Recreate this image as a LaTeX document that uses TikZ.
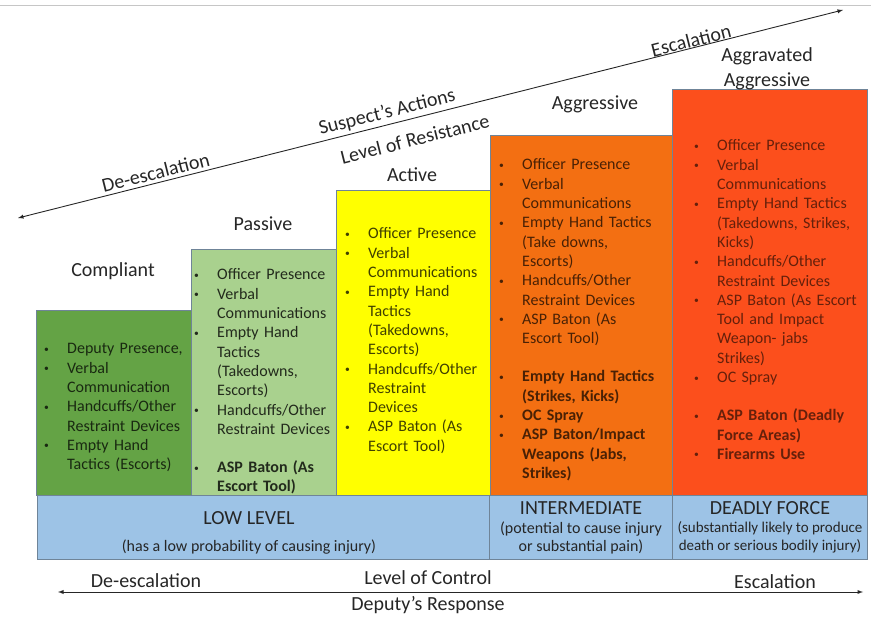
\documentclass[tikz,border=0pt]{standalone}
\usepackage{fontspec}
\usepackage{graphicx}
\setmainfont{Carlito}
\definecolor{complg}{HTML}{64A345}
\definecolor{passg}{HTML}{A9D18E}
\definecolor{activy}{HTML}{FFFF00}
\definecolor{aggro}{HTML}{F36F12}
\definecolor{aggrav}{HTML}{FC4F1C}
\definecolor{bandb}{HTML}{9DC3E6}
\definecolor{boxline}{HTML}{6F8498}
\definecolor{txtgrey}{HTML}{262626}
\newcommand\itm[1]{\par\noindent\hangindent=24pt\hangafter=1\makebox[24pt][l]{\hspace{1pt}\raisebox{1.5pt}{\scalebox{0.6}{\textbullet}}}\strut#1}
\newcommand\itmgap{\par\vspace{19pt}}
\tikzset{
  lvlbox/.style={draw=boxline, line width=0.7pt},
  head/.style={anchor=base, inner sep=0pt, font=\fontsize{20}{24}\selectfont, text=txtgrey},
  items/.style={anchor=north west, inner sep=0pt, text width=#1, align=left, font=\fontsize{16}{19.3}\selectfont},
  slab/.style={sloped, inner sep=0pt, font=\fontsize{20}{24}\selectfont, text=txtgrey},
  bandtitle/.style={anchor=base, inner sep=0pt, font=\fontsize{20}{24}\selectfont, text=txtgrey},
  bandsub/.style={anchor=base, inner sep=0pt, font=\fontsize{16}{19}\selectfont, text=txtgrey},
}
\begin{document}
\begin{tikzpicture}[x=1pt,y=-1pt]
	\useasboundingbox (0,0) rectangle (871,617);
	\draw[gray!45, line width=1pt] (0,6) -- (871,6);
	% suspect's actions
	\coordinate (dlo) at (18,218);
	\coordinate (dhi) at (843,10);
	\draw[<->, >=latex, line width=0.9pt, txtgrey] (dlo) -- (dhi)
		node[slab, pos=0.17, above=3pt] (deup) {De-escalation}
		node[slab, pos=0.451, above=3pt] (susp) {Suspect’s Actions}
		node[slab, pos=0.818, above=0pt] (escup) {Escalation}
		node[slab, pos=0.475, below=13pt] (resist) {Level of Resistance};
	% level boxes
	\draw[lvlbox, fill=complg] (36,310) rectangle (191,495);
	\draw[lvlbox, fill=passg] (191,249) rectangle (336,495);
	\draw[lvlbox, fill=activy] (336,190) rectangle (490,495);
	\draw[lvlbox, fill=aggro] (490,135) rectangle (672,495);
	\draw[lvlbox, fill=aggrav] (672,89) rectangle (867,495);
	\node[head] (compl) at (113,277) {Compliant};
	\node[head] (pass) at (263,231) {Passive};
	\node[head] (activ) at (412,182) {Active};
	\node[head] (aggr) at (595,110) {Aggressive};
	\node[head] (agvA) at (767,62) {Aggravated};
	\node[head] (agvB) at (767,87) {Aggressive};
	\node[items=145pt, text=black!75!complg] (complist) at (43,334.5) {%
		\itm{Deputy Presence,}
		\itm{Verbal\newline Communication}
		\itm{Handcuffs/Other\newline Restraint Devices}
		\itm{Empty Hand\newline Tactics (Escorts)}\par};
	\node[items=142pt, text=black!80!passg] (passlist) at (193,260.5) {%
		\itm{Officer Presence}
		\itm{Verbal\newline Communications}
		\itm{Empty Hand\newline Tactics\newline (Takedowns,\newline Escorts)}
		\itm{Handcuffs/Other\newline Restraint Devices}
		\itmgap
		\itm{\textbf{ASP Baton (As\newline Escort Tool)}}\par};
	\node[items=144pt, text=black!75!activy] (activlist) at (344,219.5) {%
		\itm{Officer Presence}
		\itm{Verbal\newline Communications}
		\itm{Empty Hand\newline Tactics\newline (Takedowns,\newline Escorts)}
		\itm{Handcuffs/Other\newline Restraint\newline Devices}
		\itm{ASP Baton (As\newline Escort Tool)}\par};
	\node[items=172pt, text=black!70!aggro] (aggrlist) at (498,150.5) {%
		\itm{Officer Presence}
		\itm{Verbal\newline Communications}
		\itm{Empty Hand Tactics\newline (Take downs,\newline Escorts)}
		\itm{Handcuffs/Other\newline Restraint Devices}
		\itm{ASP Baton (As\newline Escort Tool)}
		\itmgap
		\itm{\textbf{Empty Hand Tactics\newline (Strikes, Kicks)}}
		\itm{\textbf{OC Spray}}
		\itm{\textbf{ASP Baton/Impact\newline Weapons (Jabs,\newline Strikes)}}\par};
	\node[items=172pt, text=black!60!aggrav] (agvlist) at (693,131.5) {%
		\itm{Officer Presence}
		\itm{Verbal\newline Communications}
		\itm{Empty Hand Tactics\newline (Takedowns, Strikes,\newline Kicks)}
		\itm{Handcuffs/Other\newline Restraint Devices}
		\itm{ASP Baton (As Escort\newline Tool and Impact\newline Weapon- jabs\newline Strikes)}
		\itm{OC Spray}
		\itmgap
		\itm{\textbf{ASP Baton (Deadly\newline Force Areas)}}
		\itm{\textbf{Firearms Use}}\par};
	% force band
	\draw[lvlbox, fill=bandb] (37,495) rectangle (867,559);
	\draw[lvlbox] (489,495) -- (489,559);
	\draw[lvlbox] (672,495) -- (672,559);
	\node[bandtitle] (low) at (249,525) {LOW LEVEL};
	\node[bandsub] (lowsub) at (249,552) {(has a low probability of causing injury)};
	\node[bandtitle] (inter) at (581,515) {INTERMEDIATE};
	\node[bandsub] (intersubA) at (581,534) {(potential to cause injury};
	\node[bandsub] (intersubB) at (581,552) {or substantial pain)};
	\node[bandtitle] (deadly) at (770,515) {DEADLY FORCE};
	\node[bandsub, font=\fontsize{15}{18}\selectfont] (deadsubA) at (770,533) {(substantially likely to produce};
	\node[bandsub, font=\fontsize{15}{18}\selectfont] (deadsubB) at (770,551) {death or serious bodily injury)};
	% deputy's response
	\coordinate (rlo) at (58,592);
	\coordinate (rhi) at (863,592);
	\draw[<->, >=latex, line width=0.9pt, txtgrey] (rlo) -- (rhi);
	\node[head] (dedn) at (146,587) {De-escalation};
	\node[head] (ctrl) at (428,584) {Level of Control};
	\node[head] (escdn) at (775,588) {Escalation};
	\node[head] (resp) at (428,611) {Deputy’s Response};
\end{tikzpicture}
\end{document}
